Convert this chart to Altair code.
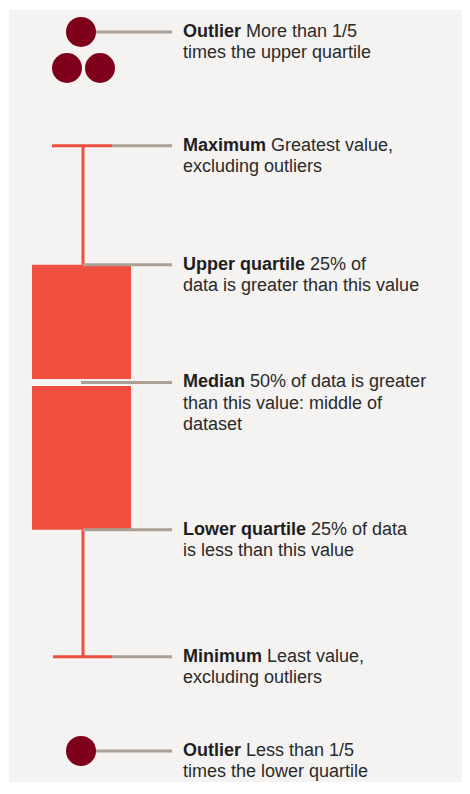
import altair as alt
import pandas as pd

# ---- data: box-plot statistics (value units, 0-100) ----
stat_keys = ["upper_outlier", "maximum", "upper_quartile", "median",
             "lower_quartile", "minimum", "lower_outlier"]
stat_values = [97.2, 82.7, 67.5, 52.5, 33.7, 17.5, 5.5]
upper_outlier_values = [97.2, 92.6, 92.6]
lower_outlier_values = [5.5]

# ---- label texts ----
terms = ["Outlier", "Maximum", "Upper quartile", "Median",
         "Lower quartile", "Minimum", "Outlier"]
first_lines = ["More than 1/5", "Greatest value,", "25% of",
               "50% of data is greater", "25% of data", "Least value,",
               "Less than 1/5"]
rest_lines = ["times the upper quartile", "excluding outliers",
              "data is greater than this value",
              "than this value: middle of\ndataset",
              "is less than this value", "excluding outliers",
              "times the lower quartile"]

# ---- layout (horizontal positions in px of the panel) ----
BOX_X = (32, 131)
WHISKER_X = 83
CAP_X = (52, 112)
LEADER_END = 172
TEXT_X = 183
UPPER_OUTLIER_X = [81, 67, 100]
LOWER_OUTLIER_X = [81]
LEADER_START = [81, 112, 83, 81, 83, 112, 81]
FONT_SIZE = 18
LINE_H = 21.5
VIEW_W = 453
VIEW_H = 772

RED = "#f04e3e"
DARK_RED = "#7f001a"
GREY = "#aca095"
BG = "#f4f3f1"
TXT = "#2a2a2a"

# Arial/Liberation Sans Bold advance widths (per 1000 em)
bold_w = {" ": 278, "O": 778, "u": 611, "t": 333, "l": 278, "i": 278, "e": 556,
          "r": 389, "M": 833, "a": 556, "x": 556, "m": 889, "U": 722, "p": 611,
          "q": 611, "d": 611, "n": 611, "L": 611, "o": 611, "w": 778}


def bold_width(s):
    return sum(bold_w.get(c, 556) for c in s) * FONT_SIZE / 1000.0


s = dict(zip(stat_keys, stat_values))

xs = alt.Scale(domain=[9, 9 + VIEW_W], nice=False, zero=False)
ys = alt.Scale(domain=[100 - VIEW_H / 7.84, 100], nice=False, zero=False)
X = lambda f: alt.X(f, type="quantitative", scale=xs, axis=None)
Y = lambda f: alt.Y(f, type="quantitative", scale=ys, axis=None)

box_df = pd.DataFrame([{"x": BOX_X[0], "x2": BOX_X[1],
                        "y": s["upper_quartile"], "y2": s["lower_quartile"]}])
box = alt.Chart(box_df).mark_rect(color=RED).encode(
    x=X("x"), x2="x2", y=Y("y"), y2="y2")

gap_df = pd.DataFrame([{"x": BOX_X[0], "x2": BOX_X[1], "y": s["median"]}])
gap = alt.Chart(gap_df).mark_rule(color=BG, strokeWidth=7).encode(
    x=X("x"), x2="x2", y=Y("y"))

whisk_df = pd.DataFrame([
    {"x": WHISKER_X, "y": s["maximum"], "y2": s["upper_quartile"]},
    {"x": WHISKER_X, "y": s["lower_quartile"], "y2": s["minimum"]},
])
whiskers = alt.Chart(whisk_df).mark_rule(color=RED, strokeWidth=3).encode(
    x=X("x"), y=Y("y"), y2="y2")

cap_df = pd.DataFrame([
    {"x": CAP_X[0], "x2": CAP_X[1], "y": s["maximum"]},
    {"x": CAP_X[0] + 1, "x2": CAP_X[1] + 1, "y": s["minimum"]},
])
caps = alt.Chart(cap_df).mark_rule(color=RED, strokeWidth=3).encode(
    x=X("x"), x2="x2", y=Y("y"))

lead_df = pd.DataFrame({"x": LEADER_START, "x2": [LEADER_END] * 7,
                        "y": stat_values})
leaders = alt.Chart(lead_df).mark_rule(color=GREY, strokeWidth=3).encode(
    x=X("x"), x2="x2", y=Y("y"))

pts_df = pd.DataFrame({"x": UPPER_OUTLIER_X + LOWER_OUTLIER_X,
                       "y": upper_outlier_values + lower_outlier_values})
points = alt.Chart(pts_df).mark_circle(color=DARK_RED, size=900, opacity=1).encode(
    x=X("x"), y=Y("y"))

lab_df = pd.DataFrame({
    "term": terms,
    "first": first_lines,
    "rest": rest_lines,
    "y": stat_values,
    "x": [TEXT_X] * 7,
    "x_first": [TEXT_X + bold_width(t + " ") for t in terms],
})
text_common = dict(align="left", baseline="alphabetic", fontSize=FONT_SIZE,
                   font="Liberation Sans", dy=5)
t_bold = alt.Chart(lab_df).mark_text(fontWeight="bold", color="#1e1e1e",
                                      **text_common).encode(
    x=X("x"), y=Y("y"), text="term:N")
t_first = alt.Chart(lab_df).mark_text(color=TXT, **text_common).encode(
    x=X("x_first"), y=Y("y"), text="first:N")
text_rest = dict(text_common)
text_rest["dy"] = 5 + LINE_H
t_rest = alt.Chart(lab_df).mark_text(color=TXT, lineBreak="\n",
                                      lineHeight=LINE_H, **text_rest).encode(
    x=X("x"), y=Y("y"), text="rest:N")

chart = alt.layer(box, gap, whiskers, caps, leaders, points,
                  t_bold, t_first, t_rest).properties(
    width=VIEW_W, height=VIEW_H,
    padding={"left": 1, "top": 2, "right": 0, "bottom": 0},
    autosize=alt.AutoSizeParams(type="none"),
    background="white",
).configure_view(stroke=None, fill=BG)

chart.save("out.html", embed_options={"renderer": "svg", "actions": False})
